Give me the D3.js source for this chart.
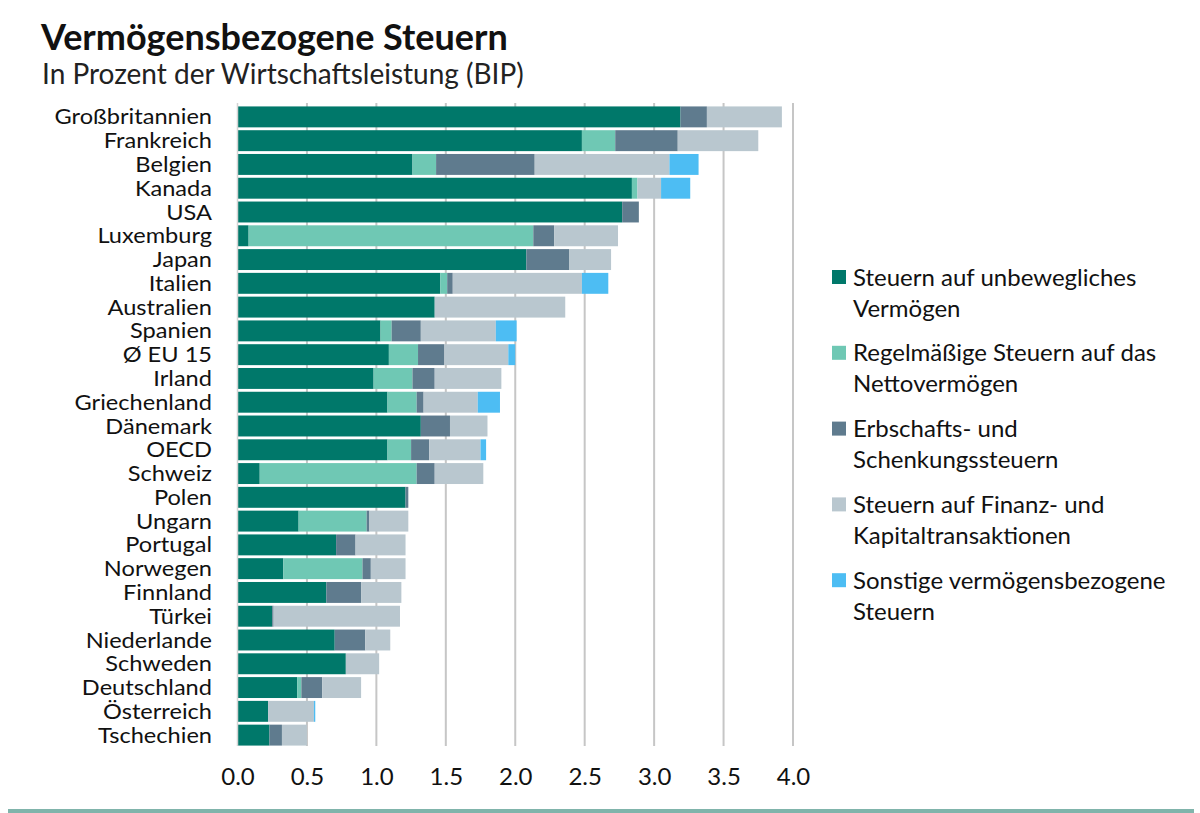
<!DOCTYPE html>
<html>
<head>
<meta charset="utf-8">
<script src="https://cdn.jsdelivr.net/npm/d3@7"></script>
<style>
    body { margin: 0; background: #fff; }
    svg { display: block; font-family: Lato, "Open Sans", sans-serif; }
</style>
</head>
<body>
<svg id="chart" width="1200" height="813"></svg>
<script>
//----------------------------------------------------------------
// Vermögensbezogene Steuern, in % des BIP (gestapelte Balken)
//----------------------------------------------------------------

const laender = ["Großbritannien", "Frankreich", "Belgien", "Kanada", "USA", "Luxemburg",
    "Japan", "Italien", "Australien", "Spanien", "Ø EU 15", "Irland", "Griechenland",
    "Dänemark", "OECD", "Schweiz", "Polen", "Ungarn", "Portugal", "Norwegen", "Finnland",
    "Türkei", "Niederlande", "Schweden", "Deutschland", "Österreich", "Tschechien"];

// une valeur par pays, dans l'ordre de "laender"
const unbeweglich = [3.19, 2.48, 1.26, 2.84, 2.77, 0.08, 2.08, 1.46, 1.42, 1.03, 1.09, 0.98, 1.08,
    1.32, 1.08, 0.16, 1.21, 0.44, 0.71, 0.33, 0.64, 0.25, 0.70, 0.78, 0.43, 0.22, 0.23];
const netto = [0, 0.24, 0.17, 0.04, 0, 2.05, 0, 0.05, 0, 0.08, 0.21, 0.28, 0.21,
    0, 0.17, 1.13, 0, 0.49, 0, 0.57, 0, 0, 0, 0, 0.03, 0, 0];
const erbschaft = [0.19, 0.45, 0.71, 0, 0.12, 0.15, 0.31, 0.04, 0, 0.21, 0.19, 0.16, 0.05,
    0.21, 0.13, 0.13, 0.02, 0.02, 0.14, 0.06, 0.25, 0.01, 0.22, 0, 0.15, 0, 0.09];
const finanz = [0.54, 0.58, 0.97, 0.17, 0, 0.46, 0.30, 0.93, 0.94, 0.54, 0.46, 0.48, 0.39,
    0.27, 0.37, 0.35, 0, 0.28, 0.36, 0.25, 0.29, 0.91, 0.18, 0.24, 0.28, 0.33, 0.18];
const sonstige = [0, 0, 0.21, 0.21, 0, 0, 0, 0.19, 0, 0.15, 0.05, 0, 0.16,
    0, 0.04, 0, 0, 0, 0, 0, 0, 0, 0, 0, 0, 0.01, 0];

const reihen = ["unbeweglich", "netto", "erbschaft", "finanz", "sonstige"];
const legendeTexte = [
    ["Steuern auf unbewegliches", "Vermögen"],
    ["Regelmäßige Steuern auf das", "Nettovermögen"],
    ["Erbschafts- und", "Schenkungssteuern"],
    ["Steuern auf Finanz- und", "Kapitaltransaktionen"],
    ["Sonstige vermögensbezogene", "Steuern"]
];
const ticks = [0, 0.5, 1, 1.5, 2, 2.5, 3, 3.5, 4];

const farben = ["#00786a", "#6fc8b4", "#5f7b8e", "#b9c7cf", "#4dbdf3"];

// tableau pour d3.stack
const tabelle = laender.map(function (l, i) {
    return {
        land: l,
        unbeweglich: unbeweglich[i],
        netto: netto[i],
        erbschaft: erbschaft[i],
        finanz: finanz[i],
        sonstige: sonstige[i]
    };
});

const svg = d3.select("#chart");

const x = d3.scaleLinear().domain([0, 4]).range([237.5, 793]);
const y = d3.scaleBand().domain(laender).range([105, 747])
    .paddingInner(0.12).paddingOuter(0.06);
const farbe = d3.scaleOrdinal().domain(reihen).range(farben);

// Titel
svg.append("text")
    .attr("x", 41).attr("y", 50)
    .attr("font-size", 36).attr("font-weight", "bold").attr("fill", "#111")
    .text("Vermögensbezogene Steuern");
svg.append("text")
    .attr("x", 42).attr("y", 84)
    .attr("font-size", 28).attr("fill", "#222")
    .text("In Prozent der Wirtschaftsleistung (BIP)");

// Gitterlinien
svg.append("g")
    .selectAll("line")
    .data(ticks.slice(1))
    .join("line")
    .attr("x1", d => x(d)).attr("x2", d => x(d))
    .attr("y1", 103).attr("y2", 746)
    .attr("stroke", "#c6c6c6")
    .attr("stroke-width", 2);

// Balken
const stapel = d3.stack().keys(reihen)(tabelle);
svg.append("g")
    .selectAll("g")
    .data(stapel)
    .join("g")
    .attr("fill", d => farbe(d.key))
    .selectAll("rect")
    .data(d => d)
    .join("rect")
    .attr("x", d => x(d[0]))
    .attr("y", d => y(d.data.land))
    .attr("width", d => x(d[1]) - x(d[0]))
    .attr("height", y.bandwidth());

// Achse bei 0
svg.append("line")
    .attr("x1", x(0)).attr("x2", x(0))
    .attr("y1", 103).attr("y2", 746)
    .attr("stroke", "#d4d4d4")
    .attr("stroke-width", 1.5);

// Länder (etwas breiter gezogen, die Zeilen sind eng)
svg.append("g")
    .selectAll("text")
    .data(laender)
    .join("text")
    .attr("transform", d => "translate(212," + (y(d) + y.bandwidth() / 2) + ") scale(1.18,1.05)")
    .attr("dy", "0.36em")
    .attr("text-anchor", "end")
    .attr("font-size", 20)
    .attr("fill", "#111")
    .text(d => d);

// x-Achse
const achse = svg.append("g")
    .attr("transform", "translate(0,760)")
    .call(d3.axisBottom(x).tickValues(ticks).tickFormat(d3.format(".1f")).tickSize(0).tickPadding(8));
achse.select(".domain").remove();
achse.selectAll("text")
    .attr("font-size", 24)
    .attr("font-family", "Lato, 'Open Sans', sans-serif")
    .attr("fill", "#111");

// Legende
const legende = svg.append("g")
    .selectAll("g")
    .data(reihen)
    .join("g")
    .attr("transform", (d, i) => "translate(832," + (277 + i * 75.8) + ")");
legende.append("rect")
    .attr("x", 0).attr("y", -7)
    .attr("width", 14).attr("height", 14)
    .attr("fill", d => farbe(d));
legende.each(function (d, i) {
    const t = d3.select(this).append("text")
        .attr("x", 21).attr("y", 0)
        .attr("font-size", 24)
        .attr("fill", "#111");
    legendeTexte[i].forEach(function (zeile, j) {
        t.append("tspan")
            .attr("x", 21)
            .attr("y", j * 31)
            .attr("dy", "0.36em")
            .text(zeile);
    });
});

// Linie unten
svg.append("rect")
    .attr("x", 8).attr("y", 809)
    .attr("width", 1186).attr("height", 4)
    .attr("fill", "#80b4ab");
</script>
</body>
</html>
